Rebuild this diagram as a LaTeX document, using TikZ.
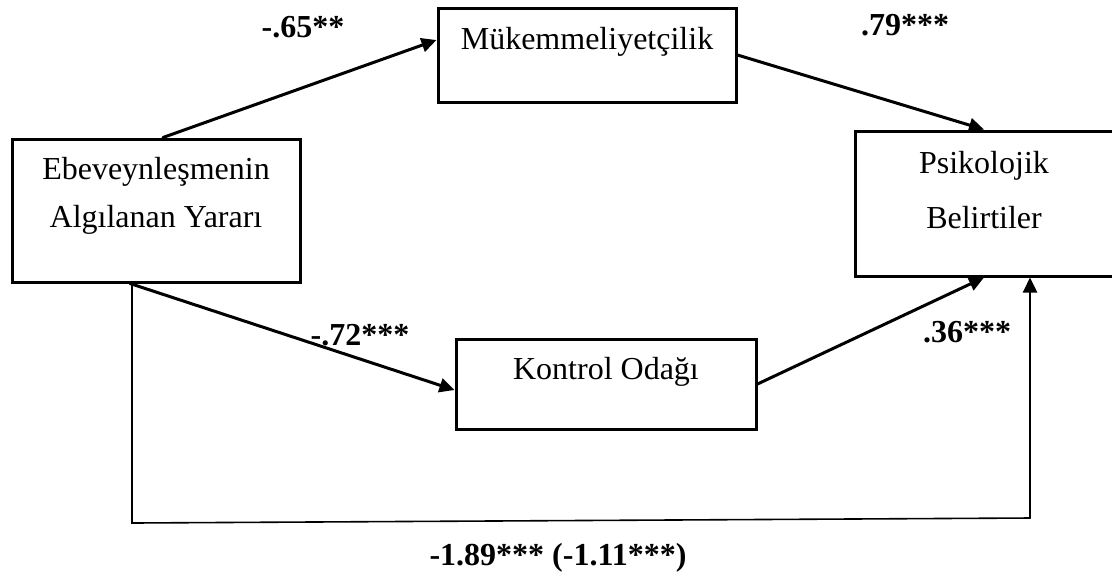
\documentclass[tikz,border=0pt]{standalone}
\usepackage{fontspec}
\setmainfont{Liberation Serif}
\usetikzlibrary{arrows.meta}
\begin{document}
\begin{tikzpicture} [x = 0.5pt, y = -0.5pt, line width = 1.5 pt,
  box/.style = {draw, rectangle, inner sep = 0pt},
  txt/.style = {font = \fontsize{16}{24}\selectfont, align = center, inner sep = 0pt},
  coef/.style = {font = \fontsize{16}{19}\selectfont\bfseries, inner sep = 0pt},
  path/.style = {-{Triangle[length = 7.5pt, width = 7pt]}, line cap = round}]
\useasboundingbox (0,0) rectangle (1112,580);
% boxes
\node[box, minimum width = 144pt, minimum height = 71.5pt] (ebev) at (156,210.5) {};
\node[box, minimum width = 149pt, minimum height = 47pt] (muk) at (587,55) {};
\node[box, minimum width = 150pt, minimum height = 45pt] (kontrol) at (606,384) {};
\node[box, minimum width = 129pt, minimum height = 72.5pt] (psik) at (984,203.5) {};
% texts
\node[txt] (ebevtxt) at (156,196) {Ebeveynleşmenin\\Algılanan Yararı};
\node[txt] (muktxt) at (587,42) {Mükemmeliyetçilik};
\node[txt] (kontroltxt) at (606,372) {Kontrol Odağı};
\node[txt] (psiktxt) at (984,190) {Psikolojik\\[3.5pt]Belirtiler};
% paths
\draw[path] ([xshift = 3.5pt]ebev.north) -- ([yshift = 7.5pt]muk.west);
\draw[path] (muk.east) -- (psik.north);
\draw[path] ([xshift = -13pt]ebev.south) -- ([yshift = -3pt]kontrol.west);
\draw[path] (kontrol.east) -- (psik.south);
% direct path
\coordinate (bl) at (132,523);
\coordinate (br) at (1030,518);
\draw[line width = 0.8pt] ([xshift = -12pt]ebev.south) -- (bl) -- (br);
\draw[path, line width = 1.2pt] (br) -- ([xshift = 23pt]psik.south);
% coefficients
\node[coef] (a) at (303,27) {-.65**};
\node[coef] (b) at (905,25) {.79***};
\node[coef] (c) at (360,335) {-.72***};
\node[coef] (d) at (967,332) {.36***};
\node[coef] (total) at (558,558) {-1.89*** (-1.11***)};
\end{tikzpicture}
\end{document}
